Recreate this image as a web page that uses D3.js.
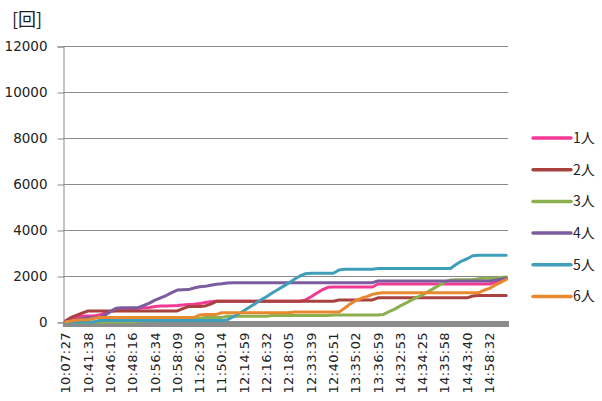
<!DOCTYPE html>
<html>
<head>
<meta charset="utf-8">
<script src="https://cdn.jsdelivr.net/npm/d3@7"></script>
<style>
  html, body { margin: 0; padding: 0; background: #fff; }
  svg { display: block; }
</style>
</head>
<body>
<svg id="chart" width="602" height="401"></svg>
<script>
// Time labels shown along the category axis (one every few samples)
const tickLabels = ["10:07:27", "10:41:38", "10:46:15", "10:48:16", "10:56:34", "10:58:09",
  "11:26:30", "11:50:14", "12:14:59", "12:16:32", "12:18:05", "12:33:39", "12:40:51",
  "13:35:02", "13:36:59", "14:32:53", "14:34:25", "14:35:58", "14:43:40", "14:58:32"];

const seriesNames = ["1人", "2人", "3人", "4人", "5人", "6人"];
const seriesColors = ["#F23A94", "#A8423F", "#8DB04F", "#7B5C9E", "#3F9EBA", "#E8892F"];

// Cumulative counts per sample
const people1 = [50, 150, 220, 260, 260, 260, 300, 380, 450, 500, 500, 500, 520, 600, 620, 630, 670, 700, 700, 710,
  720, 740, 760, 770, 800, 850, 880, 900, 900, 900, 900, 900, 900, 900, 900, 900, 900, 900, 900, 900,
  900, 900, 900, 960, 1100, 1250, 1400, 1510, 1520, 1520, 1520, 1520, 1520, 1520, 1520, 1520, 1650, 1650, 1650, 1650,
  1650, 1650, 1650, 1650, 1650, 1650, 1650, 1650, 1650, 1650, 1650, 1650, 1650, 1650, 1650, 1650, 1650, 1720, 1800, 1870];
const people2 = [50, 200, 300, 400, 480, 480, 480, 480, 480, 480, 480, 480, 480, 480, 480, 480, 480, 480, 480, 480,
  480, 580, 670, 670, 670, 700, 780, 900, 900, 900, 900, 900, 900, 900, 900, 900, 900, 900, 900, 900,
  900, 900, 900, 900, 900, 900, 900, 900, 900, 960, 960, 960, 960, 960, 960, 960, 1050, 1050, 1050, 1050,
  1050, 1050, 1050, 1050, 1050, 1050, 1050, 1050, 1050, 1050, 1050, 1050, 1050, 1130, 1150, 1150, 1150, 1150, 1150, 1150];
const people3 = [0, 0, 0, 0, 0, 0, 0, 0, 0, 0, 0, 0, 0, 30, 50, 50, 50, 100, 100, 100,
  100, 150, 150, 150, 150, 200, 200, 200, 200, 250, 250, 250, 250, 250, 250, 250, 250, 280, 280, 280,
  280, 280, 280, 280, 280, 280, 280, 280, 300, 300, 300, 300, 300, 300, 300, 300, 300, 330, 450, 560,
  700, 820, 950, 1070, 1180, 1320, 1460, 1600, 1730, 1830, 1840, 1840, 1840, 1840, 1880, 1900, 1900, 1900, 1930, 1960];
const people4 = [0, 50, 100, 150, 180, 180, 180, 300, 450, 600, 620, 620, 620, 620, 720, 820, 950, 1050, 1150, 1280,
  1390, 1400, 1410, 1480, 1530, 1550, 1600, 1640, 1660, 1700, 1710, 1710, 1710, 1710, 1710, 1710, 1710, 1710, 1710, 1710,
  1710, 1710, 1710, 1710, 1710, 1710, 1710, 1710, 1710, 1710, 1710, 1710, 1710, 1710, 1710, 1710, 1780, 1780, 1780, 1780,
  1780, 1780, 1780, 1780, 1780, 1780, 1780, 1780, 1780, 1780, 1780, 1780, 1780, 1780, 1780, 1780, 1780, 1820, 1860, 1900];
const people5 = [0, 0, 0, 0, 0, 0, 60, 60, 60, 60, 60, 60, 60, 60, 60, 60, 60, 60, 60, 60,
  60, 60, 60, 60, 60, 60, 60, 60, 60, 100, 220, 360, 500, 650, 800, 960, 1100, 1260, 1400, 1550,
  1700, 1860, 2000, 2100, 2120, 2120, 2120, 2120, 2120, 2260, 2290, 2290, 2290, 2290, 2290, 2290, 2330, 2330, 2330, 2330,
  2330, 2330, 2330, 2330, 2330, 2330, 2330, 2330, 2330, 2330, 2500, 2650, 2750, 2880, 2900, 2900, 2900, 2900, 2900, 2900];
const people6 = [0, 50, 80, 100, 100, 150, 200, 200, 200, 200, 200, 200, 200, 200, 200, 200, 200, 200, 200, 200,
  200, 200, 200, 200, 300, 330, 330, 330, 400, 400, 400, 400, 400, 400, 400, 400, 400, 400, 400, 400,
  400, 430, 430, 430, 430, 430, 430, 430, 430, 430, 600, 780, 930, 1030, 1100, 1200, 1250, 1270, 1270, 1270,
  1270, 1270, 1270, 1270, 1270, 1270, 1270, 1270, 1270, 1270, 1270, 1270, 1270, 1270, 1270, 1380, 1460, 1600, 1720, 1850];

const seriesValues = [people1, people2, people3, people4, people5, people6];
const yTicks = [0, 2000, 4000, 6000, 8000, 10000, 12000];
const labelEvery = 4;
const categories = d3.range(people1.length);

const svg = d3.select("#chart");
const plotLeft = 63, plotRight = 509, plotTop = 46, plotBottom = 322;

const x = d3.scaleBand().domain(categories).range([plotLeft, plotRight]).padding(0);
const y = d3.scaleLinear().domain([0, 12000]).range([plotBottom, plotTop]);
const cx = i => x(i) + x.bandwidth() / 2;

// unit label
svg.append("text")
  .attr("x", 12).attr("y", 26)
  .attr("font-family", "'Noto Sans CJK JP', sans-serif")
  .attr("font-size", 18)
  .attr("fill", "#222")
  .text("[回]");

// horizontal gridlines
svg.append("g")
  .selectAll("line")
  .data(yTicks)
  .join("line")
  .attr("x1", plotLeft).attr("x2", plotRight - 1)
  .attr("y1", d => Math.round(y(d)) + 0.5).attr("y2", d => Math.round(y(d)) + 0.5)
  .attr("stroke", "#8a8a8a").attr("stroke-width", 1);

// y axis
const yAxis = svg.append("g")
  .attr("transform", `translate(${plotLeft + 0.5},0.5)`)
  .call(d3.axisLeft(y).tickValues(yTicks).tickSize(6).tickPadding(10).tickFormat(d3.format("d")));
yAxis.select(".domain").attr("stroke", "#8a8a8a");
yAxis.selectAll(".tick line").attr("stroke", "#8a8a8a");
yAxis.selectAll(".tick text")
  .attr("font-family", "'DejaVu Sans', sans-serif")
  .attr("font-size", 13.5)
  .attr("fill", "#222");

// heavy baseline along the category axis
svg.append("line")
  .attr("x1", plotLeft).attr("x2", plotRight)
  .attr("y1", plotBottom + 2).attr("y2", plotBottom + 2)
  .attr("stroke", "#8c8c8c").attr("stroke-width", 6);

// x axis labels
const xAxis = svg.append("g")
  .attr("transform", `translate(0,${plotBottom})`)
  .call(d3.axisBottom(x)
    .tickValues(tickLabels.map((_, j) => j * labelEvery))
    .tickSize(0)
    .tickFormat(i => tickLabels[i / labelEvery]));
xAxis.select(".domain").remove();
xAxis.selectAll(".tick text")
  .attr("transform", "rotate(-90)")
  .attr("text-anchor", "end")
  .attr("x", -10).attr("y", 0).attr("dy", "0.35em")
  .attr("font-family", "'DejaVu Sans', sans-serif")
  .attr("font-size", 13)
  .attr("letter-spacing", "0.4px")
  .attr("fill", "#222");

// series lines
const line = d3.line().x((d, i) => cx(i)).y(d => y(d));
svg.append("g")
  .selectAll("path")
  .data(seriesValues)
  .join("path")
  .attr("d", line)
  .attr("fill", "none")
  .attr("stroke", (d, i) => seriesColors[i])
  .attr("stroke-width", 3)
  .attr("stroke-linejoin", "round")
  .attr("stroke-linecap", "round");

// legend
const legend = svg.append("g")
  .selectAll("g")
  .data(seriesNames)
  .join("g")
  .attr("transform", (d, i) => `translate(533,${138 + i * 31.7})`);
legend.append("line")
  .attr("x1", 0).attr("x2", 38)
  .attr("stroke", (d, i) => seriesColors[i])
  .attr("stroke-width", 3.5)
  .attr("stroke-linecap", "round");
legend.append("text")
  .attr("x", 40).attr("dy", "0.35em")
  .attr("font-family", "'Noto Sans CJK JP', sans-serif")
  .attr("font-size", 14)
  .attr("fill", "#222")
  .text(d => d);
</script>
</body>
</html>
